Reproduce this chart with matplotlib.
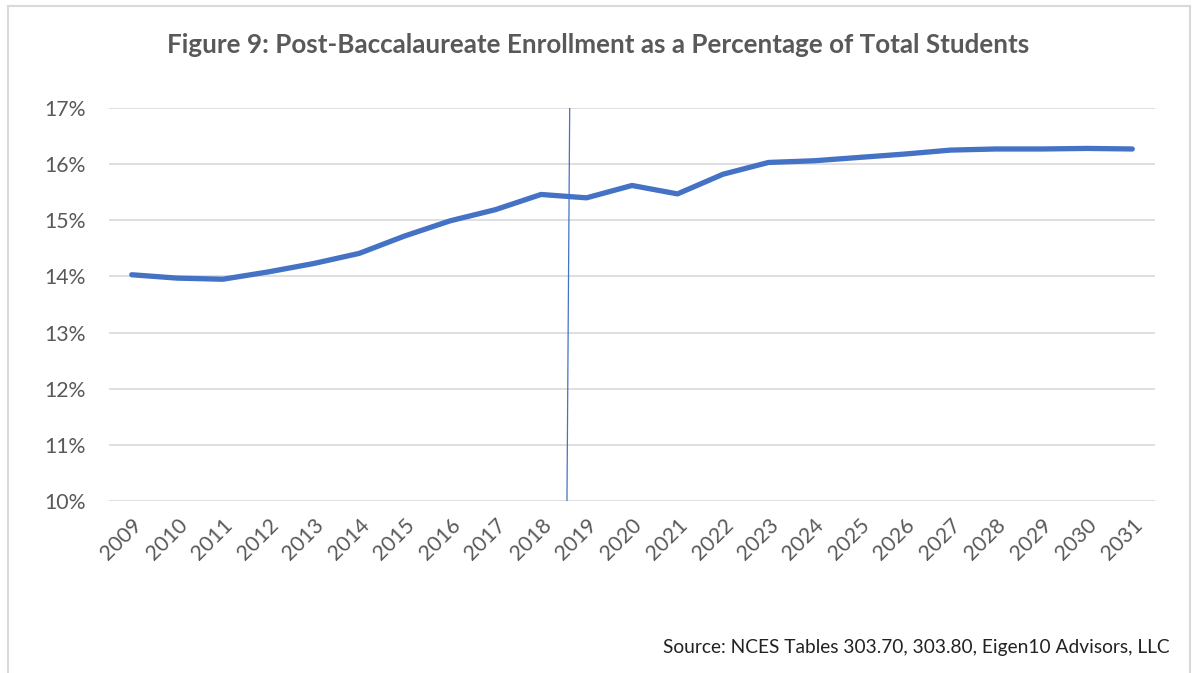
import matplotlib.pyplot as plt
from matplotlib.lines import Line2D

# data
years = [str(y) for y in range(2009, 2032)]
share_pct = [14.03, 13.97, 13.95, 14.08, 14.23, 14.41, 14.72, 14.99, 15.19, 15.46,
             15.40, 15.62, 15.47, 15.82, 16.03, 16.06, 16.12, 16.18, 16.25, 16.27,
             16.27, 16.28, 16.27]
y_ticks = [10, 11, 12, 13, 14, 15, 16, 17]
# thin divider drawn between 2018 and 2019 (slightly slanted in the original)
divider_x = [9.63, 9.57]
divider_y = [17.0, 10.0]

grey = "#595959"
blue = "#4472C4"

plt.rcParams["font.family"] = ["Lato", "DejaVu Sans"]

fig = plt.figure(figsize=(11.96, 6.73), dpi=100)
ax = fig.add_axes([109 / 1196, 1 - 501 / 673, (1155 - 109) / 1196, (501 - 108) / 673])

x = list(range(len(years)))
ax.plot(x, share_pct, color=blue, lw=3.8, solid_capstyle="round", solid_joinstyle="round", zorder=3)
ax.plot(divider_x, divider_y, color=blue, lw=0.9, zorder=4)

ax.set_xlim(-0.5, len(years) - 0.5)
ax.set_ylim(10, 17)
ax.set_yticks(y_ticks)
ax.set_yticklabels([f"{v}%" for v in y_ticks])
ax.set_xticks(x)
ax.set_xticklabels(years, rotation=45, ha="right", va="top", rotation_mode="anchor")

ax.grid(axis="y", color="#D9D9D9", lw=1.2)
ax.set_axisbelow(True)
for s in ax.spines.values():
    s.set_visible(False)
ax.tick_params(axis="both", length=0, colors=grey, labelsize=15.3)
ax.tick_params(axis="y", pad=17)
ax.tick_params(axis="x", pad=10)

fig.text(0.5, 1 - 45 / 673, "Figure 9: Post-Baccalaureate Enrollment as a Percentage of Total Students",
         ha="center", va="center", fontsize=18.7, fontweight="bold", color=grey)
fig.text(1170 / 1196, 1 - 648 / 673, "Source: NCES Tables 303.70, 303.80, Eigen10 Advisors, LLC",
         ha="right", va="center", fontsize=13.8, color="#222222")

# light frame around the chart
fx0, fx1, fy0, fy1 = 8 / 1196, 1190 / 1196, 1 - 6 / 673, -0.01
for xs, ys in [([fx0, fx0], [fy0, fy1]), ([fx0, fx1], [fy0, fy0]), ([fx1, fx1], [fy0, fy1])]:
    fig.add_artist(Line2D(xs, ys, transform=fig.transFigure, color="#D9D9D9", lw=1.5))

plt.savefig("out.png", dpi=100)
